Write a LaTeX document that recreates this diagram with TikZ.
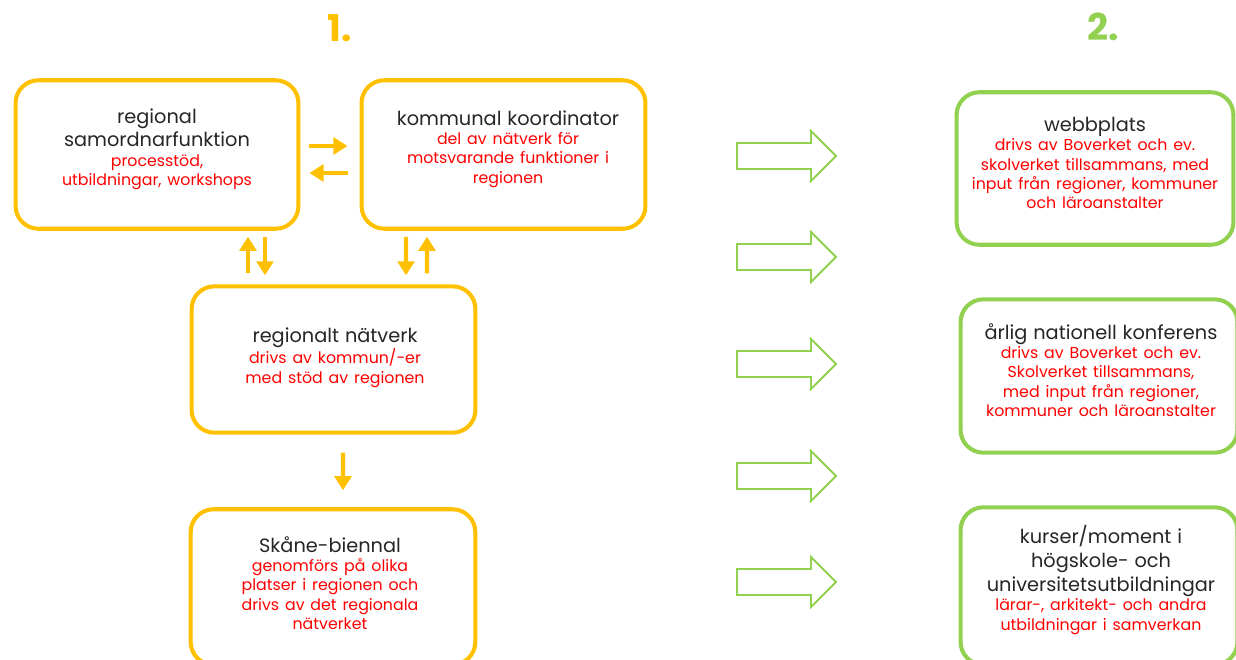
\documentclass[tikz,border=0pt]{standalone}
\usepackage{fontspec}
\setmainfont{Poppins}
\usetikzlibrary{arrows.meta,calc}
\definecolor{orng}{HTML}{FFC000}
\definecolor{grn}{HTML}{92D050}
\definecolor{rd}{HTML}{FF0000}
\definecolor{txt}{HTML}{262626}
\newcommand\tf{\fontsize{11}{13.6}\selectfont\color{txt}}
\newcommand\rf{\fontsize{9}{11}\selectfont\color{rd}}
\newcommand\blockarrow[1]{%
  \draw[barrow] (737,#1-13) -- (811,#1-13) -- (811,#1-25) -- (836,#1) -- (811,#1+25) -- (811,#1+13) -- (737,#1+13) -- cycle;}
\begin{document}
\begin{tikzpicture}[x=0.02cm,y=-0.02cm,
  obox/.style={draw=orng, line width=2.3pt, rounded corners=13pt, fill=white},
  gbox/.style={draw=grn, line width=2.3pt, rounded corners=13pt, fill=white},
  txtnode/.style={anchor=north, align=center, text width=170pt, inner sep=0pt},
  oarrow/.style={draw=orng, line width=2.5pt, -{Triangle[length=8pt,width=9.5pt]}},
  barrow/.style={draw=grn, line width=1.1pt, fill=white, line join=miter},
  title/.style={font=\fontsize{21}{24}\selectfont\bfseries, inner sep=0pt}]
\useasboundingbox (0,0) rectangle (1236,659);
\clip (0,0) rectangle (1236,659);

% titles
\node[title, text=orng] (t1) at (340,28) {1.};
\node[title, text=grn] (t2) at (1103,27) {2.};

% orange boxes
\node[obox, minimum width=161pt, minimum height=84.5pt] (A) at (157,154.5) {};
\node[obox, minimum width=161.6pt, minimum height=84.5pt] (B) at (503.5,154.5) {};
\node[obox, minimum width=161.6pt, minimum height=83.3pt] (C) at (333.5,359.5) {};
\node[obox, minimum width=162pt, minimum height=88.5pt] (D) at (333,587) {};

% green boxes
\node[gbox, minimum width=157.6pt, minimum height=86.8pt] (E) at (1095,168.5) {};
\node[gbox, minimum width=157.6pt, minimum height=87.3pt] (F) at (1099,376) {};
\node[gbox, minimum width=157.6pt, minimum height=89.6pt] (G) at (1099,586) {};

% texts
\node[txtnode] (tA) at (157,108) {\tf regional\\samordnarfunktion\par\rf processtöd,\\utbildningar, workshops\par};
\node[txtnode] (tB) at (508,110) {\tf kommunal koordinator\par\rf del av nätverk för\\motsvarande funktioner i\\regionen\par};
\node[txtnode] (tC) at (335,327) {\tf regionalt nätverk\par\rf drivs av kommun/-er\\med stöd av regionen\par};
\node[txtnode] (tD) at (330,536) {\tf Skåne-biennal\par\rf genomförs på olika\\platser i regionen och\\drivs av det regionala\\nätverket\par};
\node[txtnode] (tE) at (1095,117) {\tf webbplats\par\rf drivs av Boverket och ev.\\skolverket tillsammans, med\\input från regioner, kommuner\\och läroanstalter\par};
\node[txtnode] (tF) at (1101,323) {\tf årlig nationell konferens\par\rf drivs av Boverket och ev.\\Skolverket tillsammans,\\med input från regioner,\\kommuner och läroanstalter\par};
\node[txtnode] (tG) at (1101,525) {\tf kurser/moment i\\högskole- och\\universitetsutbildningar\par\rf lärar-, arkitekt- och andra\\utbildningar i samverkan\par};

% orange connectors
\draw[oarrow] ($(A.east)+(9,-8.5)$) -- ($(B.west)+(-12,-8.5)$);
\draw[oarrow] ($(B.west)+(-12,18.5)$) -- ($(A.east)+(9,18.5)$);
\draw[oarrow] ($(C.north)+(-85.5,-11)$) -- ($(A.south)+(91,6)$);
\draw[oarrow] ($(A.south)+(108,6)$) -- ($(C.north)+(-68.5,-9)$);
\draw[oarrow] ($(B.south)+(-97.5,6)$) -- ($(C.north)+(72.5,-9)$);
\draw[oarrow] ($(C.north)+(93.5,-11)$) -- ($(B.south)+(-76.5,6)$);
\draw[oarrow] ($(C.south)+(9.5,18)$) -- ($(D.north)+(10,-17)$);

% green block arrows
\blockarrow{156}
\blockarrow{257}
\blockarrow{364}
\blockarrow{476}
\blockarrow{582}
\end{tikzpicture}
\end{document}
